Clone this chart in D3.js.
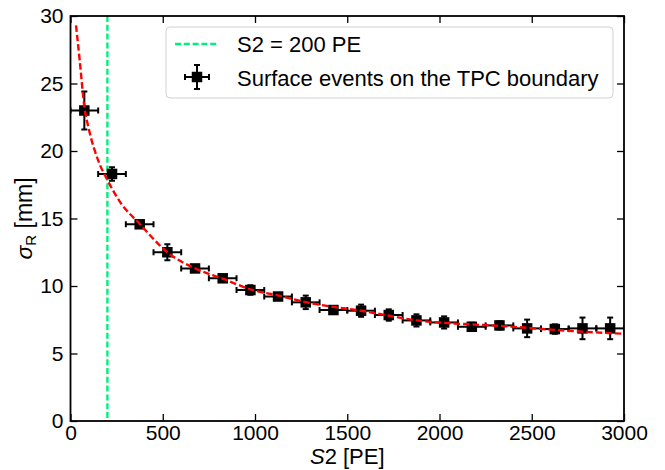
<!DOCTYPE html>
<html>
<head>
<meta charset="utf-8">
<script src="https://cdn.jsdelivr.net/npm/d3@7"></script>
<style>
  html, body { margin: 0; padding: 0; background: #fff; }
  text { font-family: "Liberation Sans", Arial, Helvetica, sans-serif; fill: #000; }
</style>
</head>
<body>
<svg id="chart" width="665" height="470"></svg>
<script>
// ---- Data ----
const s2Values   = [75, 225, 375, 525, 675, 825, 975, 1125, 1275, 1425, 1575, 1725, 1875, 2025, 2175, 2325, 2475, 2625, 2775, 2925];
const sigmaR     = [23.0, 18.3, 14.57, 12.5, 11.3, 10.57, 9.7, 9.22, 8.79, 8.22, 8.17, 7.85, 7.45, 7.3, 6.98, 7.08, 6.86, 6.81, 6.86, 6.86];
const sigmaRErr  = [1.4, 0.5, 0.2, 0.6, 0.2, 0.25, 0.35, 0.2, 0.5, 0.2, 0.45, 0.42, 0.45, 0.45, 0.3, 0.3, 0.65, 0.35, 0.8, 0.8];
const s2Err      = [75, 75, 75, 75, 75, 75, 75, 75, 75, 75, 75, 75, 75, 75, 75, 75, 75, 75, 75, 75];

const fitS2      = [30, 50, 75, 100, 150, 200, 270, 375, 525, 675, 825, 975, 1125, 1275, 1425, 1575, 1725, 1875, 2025, 2175, 2325, 2475, 2625, 2775, 3000];
const fitSigma   = [29.3, 26.7, 23.3, 21.6, 19.3, 17.85, 16.2, 14.6, 12.5, 11.3, 10.55, 9.75, 9.3, 8.8, 8.45, 8.17, 7.8, 7.45, 7.27, 7.15, 7.05, 6.9, 6.75, 6.62, 6.46];

const thresholdS2 = 200;
const xTicks = [0, 500, 1000, 1500, 2000, 2500, 3000];
const yTicks = [0, 5, 10, 15, 20, 25, 30];
const legendLabels = ["S2 = 200 PE", "Surface events on the TPC boundary"];

// ---- Layout ----
const svg = d3.select("#chart");
const L = 70.5, R = 624, T = 16, B = 421;
const x = d3.scaleLinear().domain([0, 3000]).range([L, R]);
const y = d3.scaleLinear().domain([0, 30]).range([B, T]);

const greenCol = "#00f080";
const redCol = "#ff0000";

svg.append("defs").append("clipPath").attr("id", "clip")
  .append("rect").attr("x", L).attr("y", T).attr("width", R - L).attr("height", B - T);

const plot = svg.append("g").attr("clip-path", "url(#clip)");

// vertical threshold line
plot.append("line")
  .attr("x1", x(thresholdS2)).attr("x2", x(thresholdS2))
  .attr("y1", y(30)).attr("y2", y(0))
  .attr("stroke", greenCol).attr("stroke-width", 2.4)
  .attr("stroke-dasharray", "6,2.8");

// error bars
const pts = s2Values.map((v, i) => ({x: v, y: sigmaR[i], ey: sigmaRErr[i], ex: s2Err[i]}));
const eb = plot.append("g").attr("stroke", "#000").attr("stroke-width", 2);
const cap = 3;
pts.forEach(d => {
  const cx = x(d.x), cy = y(d.y);
  const x0 = x(d.x - d.ex), x1 = x(d.x + d.ex);
  const y0 = y(d.y - d.ey), y1 = y(d.y + d.ey);
  eb.append("line").attr("x1", x0).attr("x2", x1).attr("y1", cy).attr("y2", cy);
  eb.append("line").attr("x1", x0).attr("x2", x0).attr("y1", cy - cap).attr("y2", cy + cap);
  eb.append("line").attr("x1", x1).attr("x2", x1).attr("y1", cy - cap).attr("y2", cy + cap);
  eb.append("line").attr("x1", cx).attr("x2", cx).attr("y1", y0).attr("y2", y1);
  eb.append("line").attr("x1", cx - cap).attr("x2", cx + cap).attr("y1", y0).attr("y2", y0);
  eb.append("line").attr("x1", cx - cap).attr("x2", cx + cap).attr("y1", y1).attr("y2", y1);
});

// markers
const ms = 10.5;
plot.append("g").selectAll("rect").data(pts).join("rect")
  .attr("x", d => x(d.x) - ms / 2).attr("y", d => y(d.y) - ms / 2)
  .attr("width", ms).attr("height", ms).attr("fill", "#000");

// fit curve
const fitData = fitS2.map((v, i) => [v, fitSigma[i]]);
plot.append("path")
  .datum(fitData)
  .attr("d", d3.line().x(d => x(d[0])).y(d => y(d[1])).curve(d3.curveMonotoneX))
  .attr("fill", "none").attr("stroke", redCol).attr("stroke-width", 2.4)
  .attr("stroke-dasharray", "6.5,3");

// ---- Axes ----
const tickLen = 7;
const axG = svg.append("g");
const xAxisB = d3.axisBottom(x).tickValues(xTicks).tickSize(-tickLen).tickPadding(4).tickFormat(d3.format("d"));
const xAxisT = d3.axisTop(x).tickValues(xTicks).tickSize(-tickLen).tickFormat("");
const yAxisL = d3.axisLeft(y).tickValues(yTicks).tickSize(-tickLen).tickPadding(7).tickFormat(d3.format("d"));
const yAxisR = d3.axisRight(y).tickValues(yTicks).tickSize(-tickLen).tickFormat("");

function styleAxis(g) {
  g.select(".domain").remove();
  g.selectAll(".tick line").attr("stroke", "#000").attr("stroke-width", 1.3);
  g.selectAll(".tick text").style("font-size", "21px").style("font-family", "'Liberation Sans', Arial, sans-serif");
}
axG.append("g").attr("transform", `translate(0,${B})`).call(xAxisB).call(styleAxis);
axG.append("g").attr("transform", `translate(0,${T})`).call(xAxisT).call(styleAxis);
axG.append("g").attr("transform", `translate(${L},0)`).call(yAxisL).call(styleAxis);
axG.append("g").attr("transform", `translate(${R},0)`).call(yAxisR).call(styleAxis);

// frame
svg.append("rect").attr("x", L).attr("y", T).attr("width", R - L).attr("height", B - T)
  .attr("fill", "none").attr("stroke", "#000").attr("stroke-width", 1.8);

// axis titles
const xt = svg.append("text").attr("x", (L + R) / 2).attr("y", 464)
  .attr("text-anchor", "middle").style("font-size", "22px");
xt.append("tspan").style("font-style", "italic").text("S");
xt.append("tspan").text("2 [PE]");

const yt = svg.append("text").attr("transform", `translate(32,${(T + B) / 2}) rotate(-90)`)
  .attr("text-anchor", "middle").style("font-size", "23px");
yt.append("tspan").style("font-style", "italic").text("σ");
yt.append("tspan").style("font-size", "15px").attr("dy", 4).text("R");
yt.append("tspan").attr("dy", -4).text(" [mm]");

// ---- Legend ----
const lg = svg.append("g");
lg.append("rect").attr("x", 166).attr("y", 27).attr("width", 447).attr("height", 71).attr("rx", 4)
  .attr("fill", "#fff").attr("fill-opacity", 0.85).attr("stroke", "#d0d0d0").attr("stroke-width", 1);
lg.append("line").attr("x1", 175).attr("x2", 219).attr("y1", 44).attr("y2", 44)
  .attr("stroke", greenCol).attr("stroke-width", 2.4).attr("stroke-dasharray", "6,2.8");
lg.append("text").attr("x", 237).attr("y", 52).style("font-size", "22px").text(legendLabels[0]);
const lx = 197, ly = 77, lh = 12, lv = 12;
const lgs = lg.append("g").attr("stroke", "#000").attr("stroke-width", 2);
lgs.append("line").attr("x1", lx - lh).attr("x2", lx + lh).attr("y1", ly).attr("y2", ly);
lgs.append("line").attr("x1", lx - lh).attr("x2", lx - lh).attr("y1", ly - cap).attr("y2", ly + cap);
lgs.append("line").attr("x1", lx + lh).attr("x2", lx + lh).attr("y1", ly - cap).attr("y2", ly + cap);
lgs.append("line").attr("x1", lx).attr("x2", lx).attr("y1", ly - lv).attr("y2", ly + lv);
lgs.append("line").attr("x1", lx - cap).attr("x2", lx + cap).attr("y1", ly - lv).attr("y2", ly - lv);
lgs.append("line").attr("x1", lx - cap).attr("x2", lx + cap).attr("y1", ly + lv).attr("y2", ly + lv);
lg.append("rect").attr("x", lx - ms / 2).attr("y", ly - ms / 2).attr("width", ms).attr("height", ms).attr("fill", "#000");
lg.append("text").attr("x", 237).attr("y", 86).style("font-size", "22px").text(legendLabels[1]);
</script>
</body>
</html>
